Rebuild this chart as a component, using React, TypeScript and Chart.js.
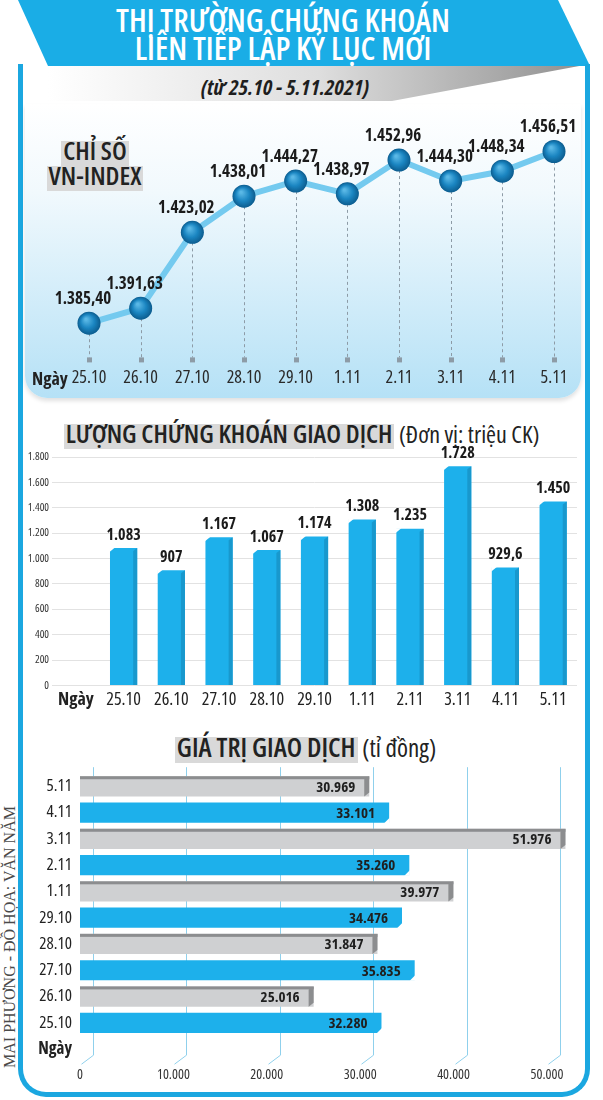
import React, { useEffect, useRef } from "react";
import { Chart, registerables } from "chart.js";
Chart.register(...registerables);

const FAMILY = "'Liberation Sans Narrow', 'Open Sans', 'DejaVu Sans', sans-serif";

const days = ["25.10", "26.10", "27.10", "28.10", "29.10", "1.11", "2.11", "3.11", "4.11", "5.11"];
const vnIndex = [1385.4, 1391.63, 1423.02, 1438.01, 1444.27, 1438.97, 1452.96, 1444.3, 1448.34, 1456.51];
const volume = [1083, 907, 1167, 1067, 1174, 1308, 1235, 1728, 929.6, 1450];
const valueDays = ["5.11", "4.11", "3.11", "2.11", "1.11", "29.10", "28.10", "27.10", "26.10", "25.10"];
const tradeValue = [30969, 33101, 51976, 35260, 39977, 34476, 31847, 35835, 25016, 32280];
const valueTicks = [0, 10000, 20000, 30000, 40000, 50000];
const dayWord = "Ngày";

const fmtNum = (v: number, dec = 0) => {
  const [i, d] = v.toFixed(dec).split(".");
  const int = i.replace(/\B(?=(\d{3})+(?!\d))/g, ".");
  return d ? int + "," + d : int;
};
const fmtAuto = (v: number) => (Number.isInteger(v) ? fmtNum(v) : fmtNum(v, 1));
const cf = (size: number, bold = false) => ({ family: FAMILY, size, weight: bold ? "bold condensed" : "400 condensed" });
const fontStr = (size: number, bold = false) => `normal ${bold ? "bold" : "400"} condensed ${size}px ${FAMILY}`;

function IndexChart() {
  const ref = useRef<HTMLCanvasElement>(null);
  useEffect(() => {
    const deco = {
      id: "indexDeco",
      beforeDatasetsDraw(chart: any) {
        const { ctx, chartArea } = chart;
        const meta = chart.getDatasetMeta(0);
        ctx.save();
        ctx.strokeStyle = "#8d9ba6";
        ctx.lineWidth = 1;
        ctx.setLineDash([3, 3]);
        meta.data.forEach((p: any) => {
          const x = Math.round(p.x) + 0.5;
          ctx.beginPath();
          ctx.moveTo(x, p.y + 10);
          ctx.lineTo(x, chartArea.bottom - 3);
          ctx.stroke();
        });
        ctx.setLineDash([]);
        ctx.fillStyle = "#8d9ba6";
        meta.data.forEach((p: any) => ctx.fillRect(Math.round(p.x) - 2, chartArea.bottom - 3, 5, 5));
        ctx.restore();
      },
      afterDatasetsDraw(chart: any) {
        const { ctx } = chart;
        const meta = chart.getDatasetMeta(0);
        const ds = chart.data.datasets[0].data;
        ctx.save();
        meta.data.forEach((p: any, i: number) => {
          const g = ctx.createRadialGradient(p.x - 3, p.y - 4, 1, p.x, p.y, 11.5);
          g.addColorStop(0, "#5ab8e6");
          g.addColorStop(0.55, "#1a85c1");
          g.addColorStop(1, "#0c5c8e");
          ctx.fillStyle = g;
          ctx.beginPath();
          ctx.arc(p.x, p.y, 11.5, 0, Math.PI * 2);
          ctx.fill();
          ctx.font = fontStr(17, true);
          ctx.fillStyle = "#1b1b1b";
          ctx.textAlign = "center";
          ctx.textBaseline = "middle";
          ctx.fillText(fmtNum(ds[i], 2), p.x - 6, p.y - 24);
        });
        ctx.restore();
      },
    };
    const chart = new Chart(ref.current!, {
      type: "line",
      data: {
        labels: days,
        datasets: [
          {
            data: vnIndex,
            borderColor: "#74caef",
            borderWidth: 6,
            pointRadius: 11,
            pointHoverRadius: 11,
            pointBackgroundColor: "#1785c2",
            pointBorderWidth: 0,
            tension: 0,
          },
        ],
      },
      options: {
        animation: false,
        responsive: false,
        events: [],
        layout: { padding: { left: 64, right: 27, top: 23, bottom: 2 } },
        plugins: { legend: { display: false }, tooltip: { enabled: false } },
        scales: {
          x: {
            grid: { display: false, drawTicks: false },
            border: { display: false },
            ticks: { color: "#2a2a2a", font: cf(18) as any, padding: 7, autoSkip: false, maxRotation: 0 },
          },
          y: { display: false, min: 1370, max: 1465 },
        },
      },
      plugins: [deco],
    } as any);
    return () => chart.destroy();
  }, []);
  return <canvas ref={ref} width={556} height={290} style={{ position: "absolute", left: 25, top: 108 }} />;
}

function VolumeChart() {
  const ref = useRef<HTMLCanvasElement>(null);
  useEffect(() => {
    const deco = {
      id: "volDeco",
      afterDatasetsDraw(chart: any) {
        const { ctx } = chart;
        const meta = chart.getDatasetMeta(0);
        const ds = chart.data.datasets[0].data;
        ctx.save();
        meta.data.forEach((b: any, i: number) => {
          const v = ds[i];
          if (v == null) return;
          const { x, y, base, width } = b.getProps(["x", "y", "base", "width"], true);
          const l = x - width / 2;
          const r = x + width / 2;
          ctx.fillStyle = "#1898cd";
          ctx.beginPath();
          ctx.moveTo(r - 4, y + 3);
          ctx.lineTo(r, y);
          ctx.lineTo(r, base);
          ctx.lineTo(r - 4, base);
          ctx.closePath();
          ctx.fill();
          ctx.fillStyle = "#ffffff";
          ctx.beginPath();
          ctx.moveTo(l - 0.5, y - 0.5);
          ctx.lineTo(l + 5, y - 0.5);
          ctx.lineTo(l - 0.5, y + 4);
          ctx.closePath();
          ctx.fill();
          ctx.font = fontStr(16, true);
          ctx.fillStyle = "#1b1b1b";
          ctx.textAlign = "center";
          ctx.textBaseline = "middle";
          ctx.fillText(fmtAuto(v), x, y - 13);
        });
        ctx.restore();
      },
    };
    const chart = new Chart(ref.current!, {
      type: "bar",
      data: {
        labels: [dayWord, ...days],
        datasets: [
          {
            data: [null, ...volume],
            backgroundColor: "#1db0eb",
            barPercentage: 0.57,
            categoryPercentage: 1,
          },
        ],
      },
      options: {
        animation: false,
        responsive: false,
        events: [],
        layout: { padding: { left: 2, right: 8, top: 17, bottom: 0 } },
        plugins: { legend: { display: false }, tooltip: { enabled: false } },
        scales: {
          x: {
            grid: { display: false, drawTicks: false },
            border: { display: false },
            ticks: {
              color: "#222",
              font: (c: any) => cf(18, c.index === 0),
              padding: 4,
              autoSkip: false,
              maxRotation: 0,
            },
          },
          y: {
            min: 0,
            max: 1800,
            afterFit: (s: any) => {
              s.width = 30;
            },
            grid: { color: "#e2e2e2", drawTicks: false },
            border: { display: false },
            ticks: { stepSize: 200, color: "#333", font: cf(11), padding: 3, callback: (v: any) => fmtNum(Number(v)) },
          },
        },
      },
      plugins: [deco],
    } as any);
    return () => chart.destroy();
  }, []);
  return <canvas ref={ref} width={565} height={275} style={{ position: "absolute", left: 20, top: 440 }} />;
}

function ValueChart() {
  const ref = useRef<HTMLCanvasElement>(null);
  useEffect(() => {
    const deco = {
      id: "valDeco",
      beforeDatasetsDraw(chart: any) {
        const { ctx, chartArea } = chart;
        const xs = chart.scales.x;
        ctx.save();
        ctx.strokeStyle = "#8fd0ec";
        ctx.lineWidth = 1;
        xs.ticks.forEach((t: any) => {
          const px = Math.round(xs.getPixelForValue(t.value)) + 0.5;
          ctx.beginPath();
          ctx.moveTo(px + 13, chartArea.top - 6);
          ctx.lineTo(px + 13, chartArea.bottom - 7);
          ctx.lineTo(px + 1, chartArea.bottom + 2);
          ctx.stroke();
        });
        ctx.restore();
      },
      afterDatasetsDraw(chart: any) {
        const { ctx } = chart;
        const meta = chart.getDatasetMeta(0);
        const ds = chart.data.datasets[0].data;
        ctx.save();
        meta.data.forEach((b: any, i: number) => {
          const v = ds[i];
          if (v == null) return;
          const { x, y, base, height } = b.getProps(["x", "y", "base", "height"], true);
          const top = y - height / 2;
          const bottom = y + height / 2;
          if (i % 2 === 0) {
            ctx.fillStyle = "#8c8d8f";
            ctx.fillRect(base, top, x - base, 3);
            ctx.beginPath();
            ctx.moveTo(x - 5, top + 3);
            ctx.lineTo(x, top);
            ctx.lineTo(x, bottom - 4);
            ctx.lineTo(x - 5, bottom);
            ctx.closePath();
            ctx.fill();
          } else {
            ctx.fillStyle = "#ffffff";
            ctx.beginPath();
            ctx.moveTo(x + 0.5, bottom - 5);
            ctx.lineTo(x + 0.5, bottom + 0.5);
            ctx.lineTo(x - 5, bottom + 0.5);
            ctx.closePath();
            ctx.fill();
          }
          ctx.font = fontStr(15, true);
          ctx.fillStyle = "#1f1f1f";
          ctx.textAlign = "right";
          ctx.textBaseline = "middle";
          ctx.fillText(fmtNum(v), x - 14, y + 1);
        });
        ctx.restore();
      },
    };
    const chart = new Chart(ref.current!, {
      type: "bar",
      data: {
        labels: [...valueDays, dayWord],
        datasets: [
          {
            data: [...tradeValue, null],
            backgroundColor: (c: any) => (c.dataIndex % 2 === 0 ? "#cfd0d2" : "#1db0eb"),
            barPercentage: 0.77,
            categoryPercentage: 1,
          },
        ],
      },
      options: {
        indexAxis: "y",
        animation: false,
        responsive: false,
        events: [],
        layout: { padding: { left: 10, right: 15, top: 11, bottom: 0 } },
        plugins: { legend: { display: false }, tooltip: { enabled: false } },
        scales: {
          y: {
            grid: { display: false, drawTicks: false },
            border: { display: false },
            afterFit: (s: any) => {
              s.width = 50;
            },
            ticks: {
              color: "#222",
              font: (c: any) => cf(17, c.index === valueDays.length),
              padding: 8,
              autoSkip: false,
            },
          },
          x: {
            min: 0,
            max: 53000,
            grid: { display: false, drawTicks: false },
            border: { display: false },
            afterBuildTicks: (s: any) => {
              s.ticks = valueTicks.map((v) => ({ value: v }));
            },
            ticks: {
              color: "#333",
              font: cf(14),
              padding: 4,
              maxRotation: 0,
              autoSkip: false,
              callback: (v: any) => fmtNum(Number(v)),
            },
          },
        },
      },
      plugins: [deco],
    } as any);
    return () => chart.destroy();
  }, []);
  return <canvas ref={ref} width={570} height={332} style={{ position: "absolute", left: 20, top: 755 }} />;
}

const hl: React.CSSProperties = {
  background: "linear-gradient(to bottom, transparent 24%, #d9d9d9 24%, #d9d9d9 94%, transparent 94%)",
  padding: "0 2px",
};

export default function App() {
  const base: React.CSSProperties = { position: "absolute", fontFamily: FAMILY, fontStretch: "condensed" };
  return (
    <div style={{ position: "absolute", left: 0, top: 0, width: 603, height: 1100, background: "#fff", overflow: "hidden" }}>
      <svg width={603} height={110} style={{ position: "absolute", left: 0, top: 0 }}>
        <defs>
          <linearGradient id="gband" x1="0" x2="1" y1="0" y2="0">
            <stop offset="0" stopColor="#ffffff" />
            <stop offset="0.5" stopColor="#dedede" />
            <stop offset="1" stopColor="#8e8e8e" />
          </linearGradient>
        </defs>
        <polygon points="48,64 590,64 392,101 48,101" fill="url(#gband)" />
        <polygon points="18,0 558,0 590,66 48,66" fill="#1aade6" />
      </svg>
      <div
        style={{
          position: "absolute",
          left: 18,
          top: 64,
          width: 572,
          height: 1033,
          boxSizing: "border-box",
          border: "5px solid #1ba7e0",
          borderTop: "none",
          borderRadius: "0 0 28px 28px",
        }}
      />
      <div style={{ ...base, left: 0, top: 6, width: 566, textAlign: "center", color: "#fff", fontSize: 32, fontWeight: 600, lineHeight: "28px" }}>
        THỊ TRƯỜNG CHỨNG KHOÁN
        <br />
        LIÊN TIẾP LẬP KỶ LỤC MỚI
      </div>
      <div style={{ ...base, left: 0, top: 73, width: 570, textAlign: "center", color: "#1e1e1e", fontSize: 22, fontWeight: 700, fontStyle: "italic", lineHeight: "26px" }}>
        (từ 25.10 - 5.11.2021)
      </div>

      <div
        style={{
          position: "absolute",
          left: 25,
          top: 104,
          width: 556,
          height: 294,
          borderRadius: "0 0 22px 22px",
          background: "linear-gradient(to bottom, #ffffff 0%, #f1f9fd 30%, #b5e1f6 100%)",
          boxShadow: "0 3px 4px rgba(0,0,0,0.12)",
        }}
      />
      <div style={{ ...base, left: 40, top: 138, width: 110, textAlign: "center", color: "#222", fontSize: 26, fontWeight: 600, lineHeight: "25px" }}>
        <span style={hl}>CHỈ SỐ</span>
        <br />
        <span style={hl}>VN-INDEX</span>
      </div>
      <IndexChart />
      <div style={{ ...base, left: 32, top: 366, color: "#222", fontSize: 18, fontWeight: 700, lineHeight: "24px" }}>{dayWord}</div>

      <div style={{ ...base, left: 0, top: 418, width: 603, textAlign: "center", color: "#222", lineHeight: "30px", whiteSpace: "nowrap" }}>
        <span style={{ ...hl, fontSize: 26, fontWeight: 600 }}>LƯỢNG CHỨNG KHOÁN GIAO DỊCH</span>
        <span style={{ fontSize: 24, fontWeight: 500 }}> (Đơn vị: triệu CK)</span>
      </div>
      <VolumeChart />

      <div style={{ ...base, left: 4, top: 732, width: 603, textAlign: "center", color: "#222", lineHeight: "30px", whiteSpace: "nowrap" }}>
        <span style={{ ...hl, fontSize: 27, fontWeight: 600 }}>GIÁ TRỊ GIAO DỊCH</span>
        <span style={{ fontSize: 25, fontWeight: 500 }}> (tỉ đồng)</span>
      </div>
      <ValueChart />

      <div
        style={{
          position: "absolute",
          left: -132,
          top: 928,
          width: 284,
          height: 18,
          lineHeight: "18px",
          textAlign: "center",
          transform: "rotate(-90deg)",
          fontFamily: "'Liberation Serif', 'DejaVu Serif', serif",
          fontSize: 16,
          color: "#4a4a4a",
          whiteSpace: "nowrap",
        }}
      >
        MAI PHƯƠNG - ĐỒ HỌA: VĂN NĂM
      </div>
    </div>
  );
}
